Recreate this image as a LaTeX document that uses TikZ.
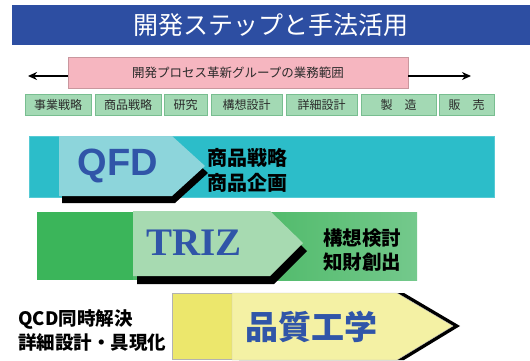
\documentclass[tikz,border=0pt]{standalone}
\usepackage{fontspec}
\usetikzlibrary{arrows.meta}
\newfontfamily\jp{Noto Sans CJK JP}
\newfontfamily\lsans{Liberation Sans}
\newfontfamily\lserif{Liberation Serif}
\definecolor{titleblue}{HTML}{2D4EA2}
\definecolor{pinkfill}{HTML}{F6B6C0}
\definecolor{pinkdraw}{HTML}{C9979E}
\definecolor{gfill}{HTML}{A3D9B4}
\definecolor{gdraw}{HTML}{78BE90}
\definecolor{darktext}{HTML}{2A2A2A}
\definecolor{qfdteal}{HTML}{2CBDC9}
\definecolor{qfdlight}{HTML}{8DD5DB}
\definecolor{techblue}{HTML}{3055A8}
\definecolor{trizdark}{HTML}{3BB55A}
\definecolor{trizmid}{HTML}{52BB6C}
\definecolor{trizright}{HTML}{74C98C}
\definecolor{trizlight}{HTML}{A7DAB1}
\definecolor{yelleft}{HTML}{ECE76C}
\definecolor{yellight}{HTML}{F4F1A4}
\tikzset{
  gbox/.style={draw=gdraw, fill=gfill, minimum height=21pt, inner sep=0pt,
    font=\jp\fontsize{12}{12}\selectfont, text=darktext},
  sublabel/.style={anchor=west, inner sep=0pt, text=black},
  band/.style={anchor=north west, inner sep=0pt},
  scopearrow/.style={line width=2.2pt, -{Stealth[length=9pt,width=8pt]}}
}
\begin{document}
\begin{tikzpicture}[x=1pt,y=-1pt]
\useasboundingbox (0,0) rectangle (530,361);
% title
\node[band, fill=titleblue, minimum width=518pt, minimum height=40pt] (title) at (12,5) {};
\node[text=white, font=\jp\fontsize{25}{25}\selectfont, inner sep=0pt] (titletext) at (title.center) {開発ステップと手法活用};
% pink scope box
\node[draw=pinkdraw, fill=pinkfill, minimum width=340pt, minimum height=31pt, inner sep=0pt,
  font=\jp\fontsize{12.5}{12.5}\selectfont, text=darktext] (scope) at (238,72.5) {開発プロセス革新グループの業務範囲};
\coordinate (la) at (28,76);
\coordinate (ra) at (471,76);
\draw[scopearrow] (scope.west |- la) -- (la);
\draw[scopearrow] (scope.east |- ra) -- (ra);
% steps
\node[gbox, minimum width=66pt] (s1) at (58,104.5) {事業戦略};
\node[gbox, minimum width=66pt] (s2) at (128,104.5) {商品戦略};
\node[gbox, minimum width=43pt] (s3) at (185.5,104.5) {研究};
\node[gbox, minimum width=71pt] (s4) at (246.5,104.5) {構想設計};
\node[gbox, minimum width=71pt] (s5) at (321.5,104.5) {詳細設計};
\node[gbox, minimum width=75pt] (s6) at (398.5,104.5) {製　造};
\node[gbox, minimum width=55pt] (s7) at (466.5,104.5) {販　売};
% QFD band
\node[band, fill=qfdteal, draw=qfdteal!80!white, minimum width=465pt, minimum height=61pt] (qfdband) at (29,136) {};
\fill[black, shift={(3,7)}] (59,136) -- (172,136) -- (205,166) -- (172,196) -- (59,196) -- cycle;
\fill[qfdlight] (59,136) -- (172,136) -- (205,166) -- (172,196) -- (59,196) -- cycle;
\node[text=techblue, font=\lsans\bfseries\fontsize{38}{38}\selectfont, inner sep=0pt] (qfd) at (118,166) {QFD};
\node[sublabel, font=\jp\bfseries\fontsize{20}{20}\selectfont] (qfd1) at (207,158) {商品戦略};
\node[sublabel, font=\jp\bfseries\fontsize{20}{20}\selectfont] (qfd2) at (207,183) {商品企画};
% TRIZ band
\node[band, fill=trizmid, minimum width=380pt, minimum height=68pt] (trizband) at (37,212) {};
\shade[left color=trizmid, right color=trizright] (270,212) rectangle (417,280);
\fill[trizdark] (37,212) rectangle (133,280);
\fill[black, shift={(4,8)}] (133,211) -- (270,211) -- (303,243) -- (270,276) -- (133,276) -- cycle;
\fill[trizlight] (133,211) -- (270,211) -- (303,243) -- (270,276) -- (133,276) -- cycle;
\node[text=techblue, font=\lserif\bfseries\fontsize{39}{39}\selectfont, inner sep=0pt] (triz) at (194,243) {TRIZ};
\node[sublabel, font=\jp\bfseries\fontsize{19.5}{19.5}\selectfont] (triz1) at (323,238) {構想検討};
\node[sublabel, font=\jp\bfseries\fontsize{19.5}{19.5}\selectfont] (triz2) at (323,262) {知財創出};
% Quality engineering
\fill[black, shift={(7,0)}] (232,293) -- (397,293) -- (453,326) -- (397,360) -- (232,360) -- cycle;
\node[band, fill=yelleft, draw=gray!60, minimum width=60pt, minimum height=66pt] (qeleft) at (172,293) {};
\filldraw[fill=yellight, draw=gray!50] (232,293) -- (397,293) -- (453,326) -- (397,360) -- (232,360) -- cycle;
\node[text=techblue, font=\jp\bfseries\fontsize{33}{33}\selectfont, inner sep=0pt] (qe) at (311,327) {品質工学};
\node[sublabel, font=\jp\bfseries\fontsize{18.5}{18.5}\selectfont] (qe1) at (18,320) {QCD同時解決};
\node[sublabel, font=\jp\bfseries\fontsize{18.5}{18.5}\selectfont] (qe2) at (18,343) {詳細設計・具現化};
\end{tikzpicture}
\end{document}
